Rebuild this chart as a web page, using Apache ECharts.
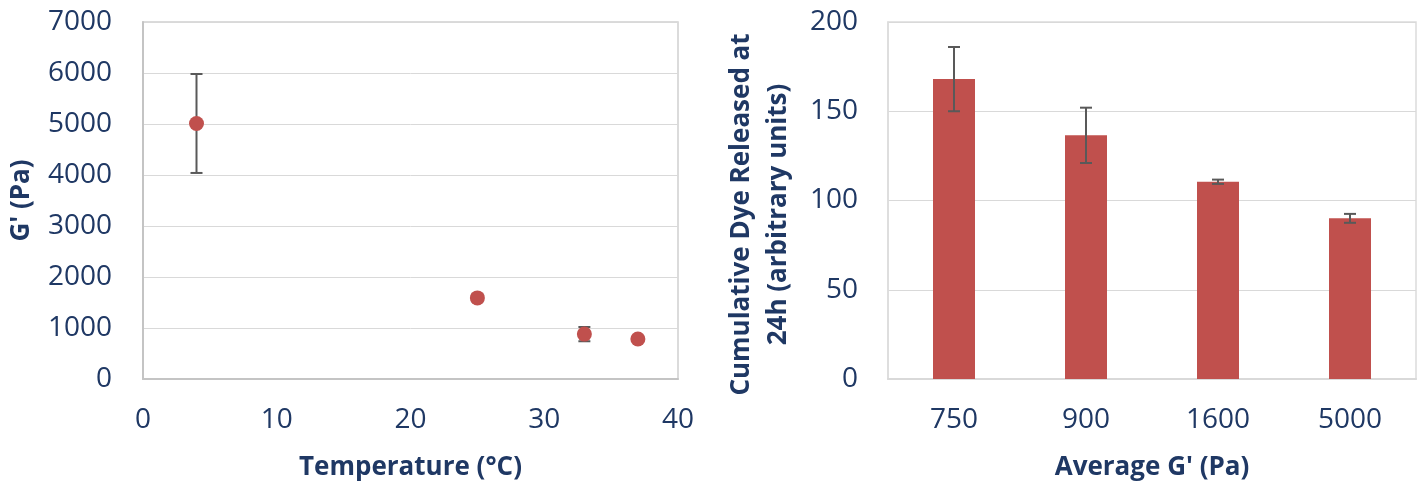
<!DOCTYPE html>
<html>
<head>
<meta charset="utf-8">
<script src="https://cdn.jsdelivr.net/npm/echarts@6/dist/echarts.min.js"></script>
<style>
html,body{margin:0;padding:0;background:#fff;}
#chart{width:1422px;height:481px;}
</style>
</head>
<body>
<div id="chart"></div>
<script>
// Left chart: G' vs temperature
var temps = [4, 25, 33, 37];
var gPrime = [5010, 1590, 880, 785];
var gPrimeErr = [970, 70, 140, 0];
var leftYTicks = [0, 1000, 2000, 3000, 4000, 5000, 6000, 7000];
var leftXTicks = [0, 10, 20, 30, 40];

// Right chart: cumulative dye released vs average G'
var categories = ['750', '900', '1600', '5000'];
var dye = [168, 136.5, 110.5, 90];
var dyeErr = [18, 15.5, 1.2, 2.5];
var rightYTicks = [0, 50, 100, 150, 200];

var textColor = '#1f3864';
var font = 'Open Sans';
var red = '#c0504d';

var scatterErrData = temps.map(function (t, i) { return [t, gPrime[i] - gPrimeErr[i], gPrime[i] + gPrimeErr[i]]; });
var barErrData = categories.map(function (c, i) { return [i, dye[i] - dyeErr[i], dye[i] + dyeErr[i]]; });

function errRender(params, api) {
  var x = api.value(0);
  var lo = api.coord([x, api.value(1)]);
  var hi = api.coord([x, api.value(2)]);
  var cap = 6;
  var style = { stroke: '#595959', lineWidth: 2 };
  return {
    type: 'group',
    children: [
      { type: 'line', shape: { x1: lo[0], y1: lo[1], x2: hi[0], y2: hi[1] }, style: style },
      { type: 'line', shape: { x1: lo[0] - cap, y1: lo[1], x2: lo[0] + cap, y2: lo[1] }, style: style },
      { type: 'line', shape: { x1: hi[0] - cap, y1: hi[1], x2: hi[0] + cap, y2: hi[1] }, style: style }
    ]
  };
}

var labelStyle = { color: textColor, fontFamily: font, fontSize: 28 };
var nameStyle = { color: textColor, fontFamily: font, fontSize: 26, fontWeight: 'bold' };
function plain(v) { return String(v); }

var chart = echarts.init(document.getElementById('chart'), null, { renderer: 'canvas' });
chart.setOption({
  animation: false,
  backgroundColor: '#ffffff',
  grid: [
    { left: 143, top: 22, width: 535, height: 357, outerBoundsMode: 'none', containLabel: false, show: true, borderColor: '#d0d0d0', borderWidth: 1.5, backgroundColor: 'transparent' },
    { left: 888, top: 22, width: 528, height: 357, outerBoundsMode: 'none', containLabel: false, show: true, borderColor: '#dcdcdc', borderWidth: 1.5, backgroundColor: 'transparent' }
  ],
  xAxis: [
    {
      gridIndex: 0, type: 'value', min: leftXTicks[0], max: leftXTicks[leftXTicks.length - 1], interval: 10,
      name: 'Temperature (°C)', nameLocation: 'middle', nameGap: 76, nameTextStyle: nameStyle,
      axisLine: { show: true, lineStyle: { color: '#c4c4c4', width: 2 } },
      axisTick: { show: false },
      axisLabel: Object.assign({ margin: 27, formatter: plain }, labelStyle),
      splitLine: { show: false }
    },
    {
      gridIndex: 1, type: 'category', data: categories,
      name: "Average G' (Pa)", nameLocation: 'middle', nameGap: 76, nameTextStyle: nameStyle,
      axisLine: { show: true, lineStyle: { color: '#d9d9d9', width: 2 } },
      axisTick: { show: false },
      axisLabel: Object.assign({ margin: 27 }, labelStyle),
      splitLine: { show: false }
    }
  ],
  yAxis: [
    {
      gridIndex: 0, type: 'value', min: leftYTicks[0], max: leftYTicks[leftYTicks.length - 1], interval: 1000,
      name: "G' (Pa)", nameLocation: 'middle', nameGap: 108, nameTextStyle: nameStyle,
      axisLine: { show: true, lineStyle: { color: '#c4c4c4', width: 2 } },
      axisTick: { show: false },
      axisLabel: Object.assign({ margin: 31, formatter: plain }, labelStyle),
      splitLine: { show: true, lineStyle: { color: '#d9d9d9', width: 1 } }
    },
    {
      gridIndex: 1, type: 'value', min: rightYTicks[0], max: rightYTicks[rightYTicks.length - 1], interval: 50,
      name: 'Cumulative Dye Released at\n24h (arbitrary units)', nameLocation: 'middle', nameGap: 91,
      nameTextStyle: Object.assign({ lineHeight: 37, padding: [0, 28, 0, 0] }, nameStyle),
      axisLine: { show: true, lineStyle: { color: '#dcdcdc', width: 1.5 } },
      axisTick: { show: false },
      axisLabel: Object.assign({ margin: 30, formatter: plain }, labelStyle),
      splitLine: { show: true, lineStyle: { color: '#d9d9d9', width: 1 } }
    }
  ],
  series: [
    {
      type: 'custom', xAxisIndex: 0, yAxisIndex: 0, renderItem: errRender,
      data: scatterErrData, z: 2, silent: true
    },
    {
      type: 'scatter', xAxisIndex: 0, yAxisIndex: 0,
      data: temps.map(function (t, i) { return [t, gPrime[i]]; }),
      symbolSize: 15, itemStyle: { color: red, opacity: 1 }, z: 3
    },
    {
      type: 'bar', xAxisIndex: 1, yAxisIndex: 1, data: dye, barWidth: 42,
      itemStyle: { color: red }, z: 2
    },
    {
      type: 'custom', xAxisIndex: 1, yAxisIndex: 1, renderItem: errRender,
      data: barErrData, z: 3, silent: true
    }
  ]
});
</script>
</body>
</html>
